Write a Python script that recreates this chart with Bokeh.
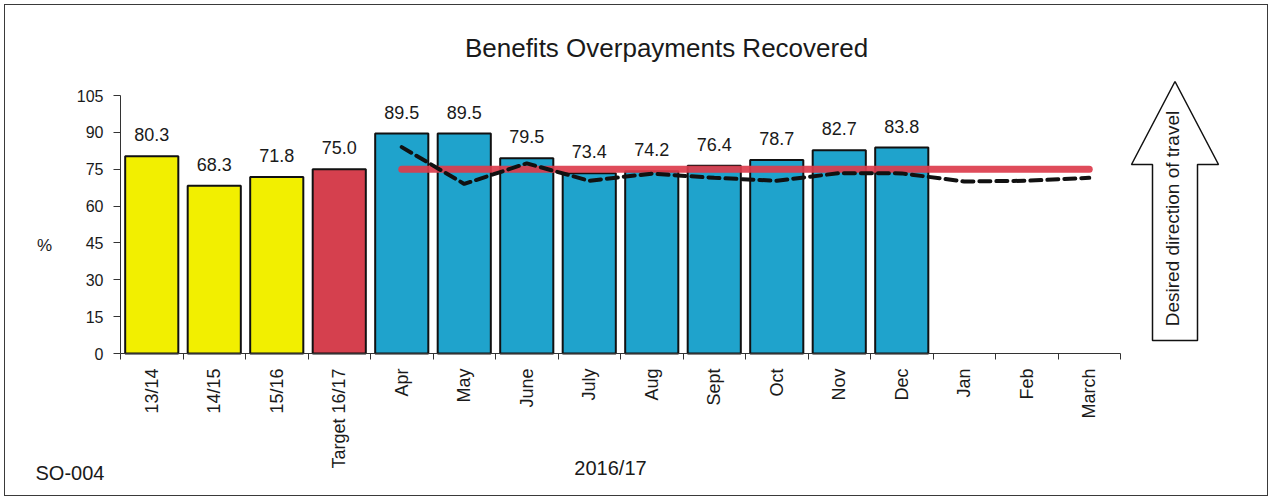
import numpy as np
from bokeh.plotting import figure
from bokeh.models import ColumnDataSource, FixedTicker, LabelSet, Label, Range1d
from bokeh.core.properties import value
from bokeh.embed import file_html
from bokeh.resources import INLINE

# ---- data ----
categories = ["13/14", "14/15", "15/16", "Target 16/17", "Apr", "May", "June", "July",
              "Aug", "Sept", "Oct", "Nov", "Dec", "Jan", "Feb", "March"]
bar_values = [80.3, 68.3, 71.8, 75.0, 89.5, 89.5, 79.5, 73.4, 74.2, 76.4, 78.7, 82.7, 83.8,
              None, None, None]
bar_groups = ["hist", "hist", "hist", "target"] + ["month"] * 12
monthly_categories = ["Apr", "May", "June", "July", "Aug", "Sept", "Oct", "Nov", "Dec",
                      "Jan", "Feb", "March"]
comparison_values = [84.0, 69.0, 77.4, 70.3, 73.2, 71.5, 70.3, 73.4, 73.3, 70.0, 70.3, 71.5]
target_value = 75.0
y_ticks = [0, 15, 30, 45, 60, 75, 90, 105]
y_max = 105

FONT = "Liberation Sans"
TXT = "#1a1a1a"
group_colors = {"hist": "#f2ef00", "target": "#d5404e", "month": "#1fa3cc"}

# ---- layout geometry (canvas pixels) ----
W, H = 1272, 500
AX_LEFT, AX_RIGHT = 120, 1120      # x-axis pixel extent (0 .. n)
AX_BOTTOM, AX_TOP = 353, 95        # y-axis pixel extent (0 .. y_max)

n = len(categories)
kx = (AX_RIGHT - AX_LEFT) / n
ky = (AX_BOTTOM - AX_TOP) / y_max


def px2x(px):
    return (np.asarray(px, dtype=float) - AX_LEFT) / kx


def py2y(py):
    return (AX_BOTTOM - np.asarray(py, dtype=float)) / ky


centers = np.arange(n) + 0.5
cat_pos = {c: centers[i] for i, c in enumerate(categories)}

p = figure(width=W, height=H, output_backend="svg", toolbar_location=None,
           x_range=Range1d(float(px2x(0)), float(px2x(W))),
           y_range=Range1d(float(py2y(H)), float(py2y(0))),
           min_border_left=0, min_border_right=0, min_border_top=0, min_border_bottom=0)
p.outline_line_color = None
p.grid.visible = False
p.background_fill_alpha = 0
p.border_fill_alpha = 0
p.styles = {"outline": "1.5px solid #3a3a3a", "outline-offset": "-5px"}

# bars
idx = [i for i, v in enumerate(bar_values) if v is not None]
bar_src = ColumnDataSource(dict(
    x=[centers[i] for i in idx],
    top=[bar_values[i] for i in idx],
    color=[group_colors[bar_groups[i]] for i in idx],
    label=["%.1f" % bar_values[i] for i in idx],
))
p.vbar(x="x", top="top", width=0.85, bottom=0, source=bar_src, fill_color="color",
       line_color="#111111", line_width=2)

labels = LabelSet(x="x", y="top", text="label", source=bar_src, text_align="center",
                  text_baseline="alphabetic", y_offset=15, text_font=value(FONT),
                  text_font_size="18px", text_color=TXT)
p.add_layout(labels)

# target line
mx = [cat_pos[c] for c in monthly_categories]
p.line([mx[0], mx[-1]], [target_value, target_value], line_color="#dc3c4c", line_width=7,
       line_alpha=0.92, line_cap="round")
# comparison dashed line
p.line(mx, comparison_values, line_color="#111111", line_width=4, line_dash="11 6",
       line_cap="round")

# axes (drawn at fixed data locations inside the frame)
xa = p.xaxis[0]
xa.fixed_location = 0
xa.bounds = (0, n)
xa.ticker = FixedTicker(ticks=list(centers), minor_ticks=list(range(n + 1)))
xa.major_label_overrides = {float(centers[i]): categories[i] for i in range(n)}
xa.major_tick_line_color = None
xa.major_tick_out = 6
xa.minor_tick_out = 6
xa.minor_tick_in = 0
xa.minor_tick_line_color = "#333333"
xa.major_label_orientation = np.pi / 2
xa.major_label_standoff = 9
xa.major_label_text_font = FONT
xa.major_label_text_font_size = "18px"
xa.major_label_text_color = TXT
xa.axis_line_color = "#333333"

ya = p.yaxis[0]
ya.fixed_location = 0
ya.bounds = (0, y_max)
ya.ticker = FixedTicker(ticks=y_ticks, minor_ticks=[])
ya.major_tick_out = 7
ya.major_tick_in = 0
ya.major_label_standoff = 10
ya.major_label_text_font = FONT
ya.major_label_text_font_size = "16px"
ya.major_label_text_color = TXT
ya.axis_line_color = "#333333"
ya.major_tick_line_color = "#333333"


def add_text(txt, px, py, size, align="center", angle=0.0):
    p.add_layout(Label(x=float(px2x(px)), y=float(py2y(py)), text=txt, angle=angle,
                       text_align=align, text_baseline="middle", text_font=FONT,
                       text_font_size=size, text_color=TXT))


add_text("Benefits Overpayments Recovered", 666, 47, "26px")
add_text("%", 44, 245, "17px")
add_text("2016/17", 610, 467, "20px")
add_text("SO-004", 35, 472, "20px", align="left")

# "desired direction of travel" arrow (decoration, pixel geometry)
arrow_px = [1152, 1197, 1197, 1218, 1174.5, 1131, 1152]
arrow_py = [340, 340, 164, 164, 81, 164, 164]
p.patch(px2x(arrow_px), py2y(arrow_py), fill_color="white", line_color="#111111",
        line_width=1.5)
add_text("Desired direction of travel", 1172, 218, "19px", angle=np.pi / 2)

open("out.html", "w").write(file_html(p, INLINE))
